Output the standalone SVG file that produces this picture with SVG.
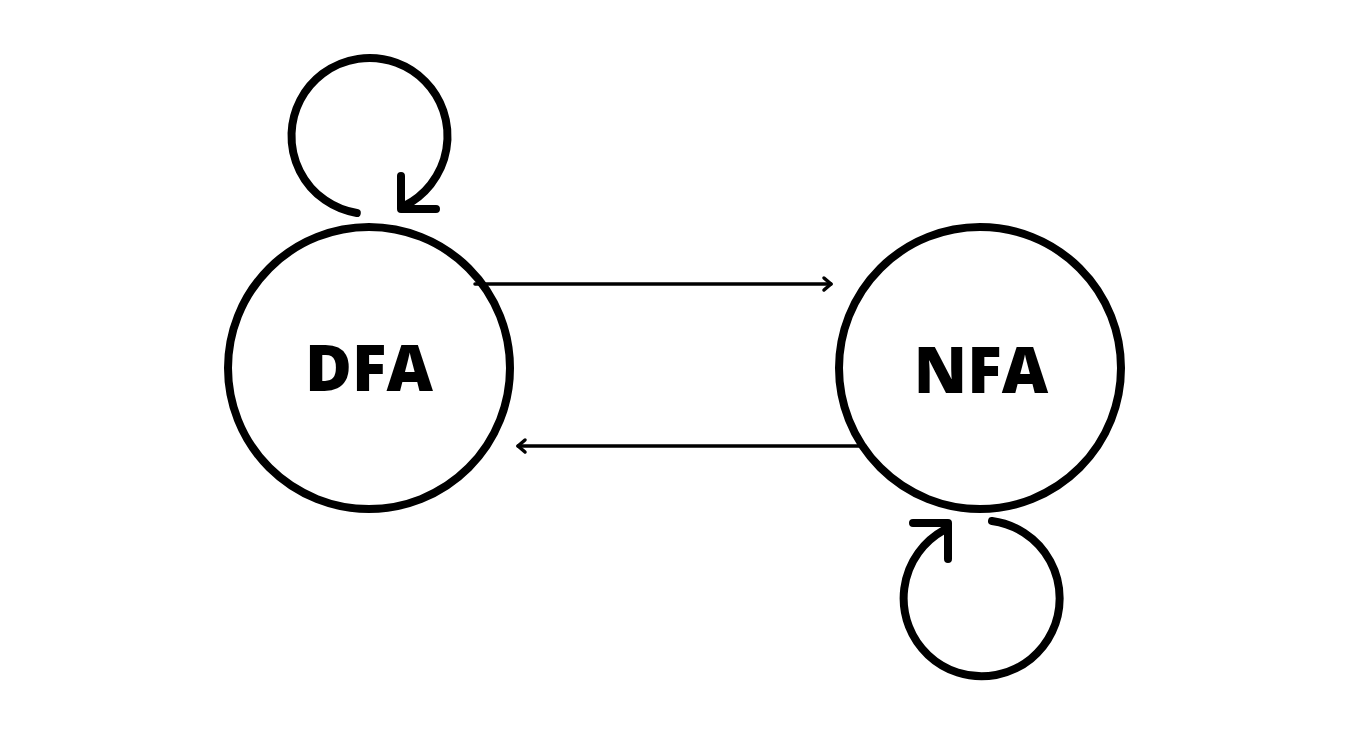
<svg xmlns="http://www.w3.org/2000/svg" width="1350" height="735" viewBox="0 0 1350 735">
<style>
.node{fill:none;stroke:#000;stroke-width:8}
.loop{fill:none;stroke:#000;stroke-width:8;stroke-linecap:round;stroke-linejoin:round}
.edge{fill:none;stroke:#000;stroke-width:3.5;stroke-linecap:round;stroke-linejoin:round}
.lbl{font-family:"Open Sans","Noto Sans",sans-serif;font-weight:800;font-size:64px;text-anchor:middle;fill:#000}
</style>
<rect width="1350" height="735" fill="#fff"/>
<g id="DFA">
<circle class="node" cx="369" cy="368" r="141"/>
<text class="lbl" x="369" y="391">DFA</text>
</g>
<g id="NFA">
<circle class="node" cx="980" cy="368" r="141"/>
<text class="lbl" x="981" y="393">NFA</text>
</g>
<g id="connectors">
<path class="loop" d="M356.8,213 A78,78 0 1 1 404,206"/>
<path class="loop" d="M401,176 L401,209 L436,209"/>
<path class="loop" d="M992,521 A78,78 0 1 1 944,530"/>
<path class="loop" d="M913,523 L948,523 L948,559"/>
<path class="edge" d="M475,284 L831,284"/>
<path class="edge" d="M824,278 L831,284 L824,290"/>
<path class="edge" d="M865,446 L518,446"/>
<path class="edge" d="M525,440 L518,446 L525,452"/>
</g>
</svg>
